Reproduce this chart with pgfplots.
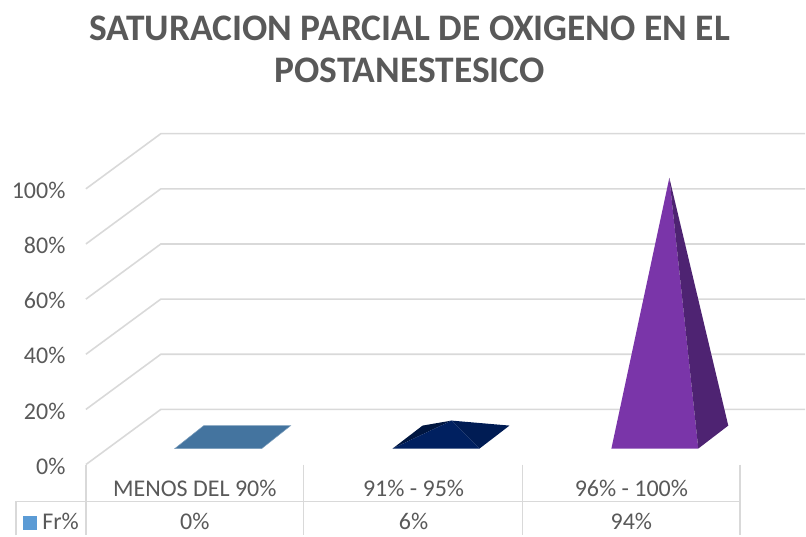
\documentclass[border=0pt]{standalone}
\usepackage{fontspec}
\setmainfont{Carlito}
\usepackage{pgfplots}
\pgfplotsset{compat=1.18}
\definecolor{gridc}{HTML}{D9D9D9}
\definecolor{txt}{HTML}{595959}
\definecolor{pyrA}{HTML}{44749F}
\definecolor{pyrB}{HTML}{002060}
\definecolor{pyrBr}{HTML}{001C54}
\definecolor{pyrBd}{HTML}{001640}
\definecolor{pyrC}{HTML}{7A35A9}
\definecolor{pyrCd}{HTML}{4E2372}
\definecolor{key}{HTML}{5B9BD5}
\begin{document}
\begin{tikzpicture}
\begin{axis}[
  scale only axis, width=720pt, height=331.2pt,
  xmin=86, xmax=806, ymin=0, ymax=120,
  clip=false,
  axis line style={draw=none},
  tick style={draw=none},
  ytick={0,20,40,60,80,100},
  yticklabels={0\%,20\%,40\%,60\%,80\%,100\%},
  yticklabel style={font=\fontsize{24}{26}\selectfont, text=txt, xshift=-17pt, yshift=-4.5pt},
  xtick={195,414,632},
  xticklabels={MENOS DEL 90\%,91\% - 95\%,96\% - 100\%},
  xticklabel style={font=\fontsize{24}{26}\selectfont, text=txt, anchor=center, yshift=-27pt},
  typeset ticklabels with strut,
  legend style={at={(axis description cs:-0.047,-0.175)}, anchor=center, draw=none, fill=none,
    font=\fontsize{24}{26}\selectfont, text=txt, inner sep=0pt},
  legend cell align=left,
  title style={at={(axis description cs:0.45,1.238)}, anchor=center, align=center,
    font=\fontsize{37.5}{42}\selectfont\bfseries, text=txt},
  title={SATURACION PARCIAL DE OXIGENO EN EL\\POSTANESTESICO},
]
\path (axis cs:0,-25.72) rectangle (axis cs:806,168.48);
% grid
\pgfplotsinvokeforeach{0,20,40,60,80,100}{
  \addplot[gridc, line width=1.6pt, forget plot] coordinates {(86,#1) (161,#1+20) (806,#1+20)};
}
% table lines
\addplot[gridc, line width=1.6pt, forget plot] coordinates {(16,-25.72) (16,-13.4) (741,-13.4)};
\addplot[gridc, line width=1.6pt, forget plot] coordinates {(86,0) (86,-25.72)};
\addplot[gridc, line width=1.6pt, forget plot] coordinates {(304,0) (304,-25.72)};
\addplot[gridc, line width=1.6pt, forget plot] coordinates {(523,0) (523,-25.72)};
\addplot[gridc, line width=1.6pt, forget plot] coordinates {(741,0) (741,-25.72)};
% pyramids
\addplot[fill=pyrA, draw=pyrA!70!white, line width=0.5pt, forget plot] coordinates {(175,5.8) (262,5.8) (291,14.13) (204,14.13)} -- cycle;
\addplot[fill=pyrBd, draw=none, forget plot] coordinates {(393,5.8) (423,14.13) (452,15.94)} -- cycle;
\addplot[fill=pyrBr, draw=none, forget plot] coordinates {(480,5.8) (510,14.13) (452,15.94)} -- cycle;
\addplot[fill=pyrB, draw=none, forget plot] coordinates {(393,5.8) (480,5.8) (452,15.94)} -- cycle;
\addplot[fill=pyrC, draw=none, forget plot] coordinates {(612,5.8) (699,5.8) (670,103.99)} -- cycle;
\addplot[fill=pyrCd, draw=none, forget plot] coordinates {(699,5.8) (729,14.13) (670,103.99)} -- cycle;
% data row
\node[font=\fontsize{24}{26}\selectfont, text=txt] at (axis cs:195,-20.5) {0\%};
\node[font=\fontsize{24}{26}\selectfont, text=txt] at (axis cs:414,-20.5) {6\%};
\node[font=\fontsize{24}{26}\selectfont, text=txt] at (axis cs:632,-20.5) {94\%};
\addlegendimage{only marks, mark=square*, mark size=6.5pt, color=key}
\addlegendentry{\hspace{4pt}Fr\%}
\end{axis}
\end{tikzpicture}
\end{document}
